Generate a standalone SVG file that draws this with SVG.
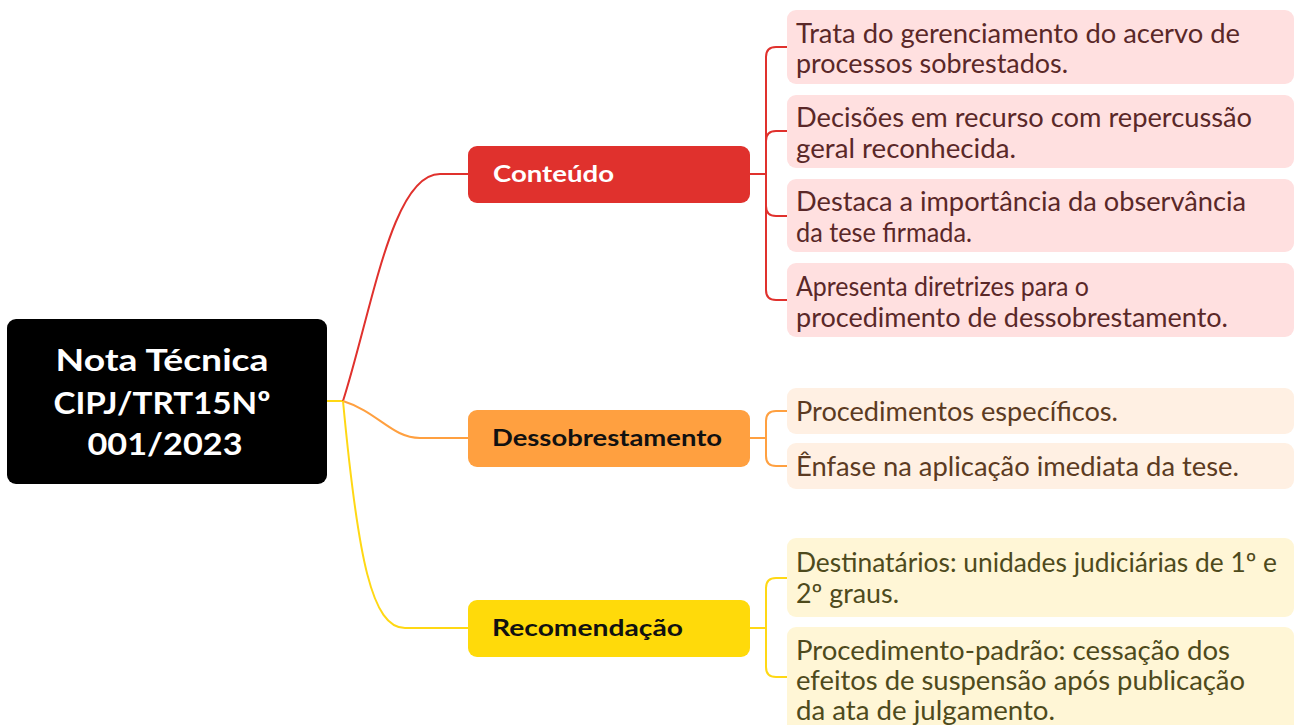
<svg xmlns="http://www.w3.org/2000/svg" width="1296" height="725" viewBox="0 0 1296 725">
<style>
.root{fill:#000}
.rt{font-family:Lato,"Liberation Sans",sans-serif;font-weight:bold;font-size:31px;fill:#fff;text-anchor:middle}
.bt{font-family:Lato,"Liberation Sans",sans-serif;font-weight:bold;font-size:22px}
.ct{font-family:Lato,"Liberation Sans",sans-serif;font-size:26px}
.c{fill:none;stroke-width:2}
.r{stroke:#E0312D}.o{stroke:#FFA040}.y{stroke:#FFD814}
.pk{fill:#FFE0E0}.po{fill:#FFF0E3}.py{fill:#FFF6D6}
.tk{fill:#5A2828}.to{fill:#5C3B22}.ty{fill:#4E4A1C}
</style>
<g id="connectors">
<path class="c y" d="M327 401 H343"/>
<path class="c r" d="M343 401 C372 310 392 174 440 174 H468"/>
<path class="c o" d="M343 401 C378 412 392 438 420 438 H468"/>
<path class="c y" d="M343 401 C358 560 372 628 405 628 H468"/>
<path class="c r" d="M750 174 H766 M788 47 H776 Q766 47 766 57 V290 Q766 300 776 300 H788 M788 131 H776 Q766 131 766 141 M788 216 H776 Q766 216 766 206"/>
<path class="c o" d="M750 438 H766 M788 411 H776 Q766 411 766 421 V456 Q766 466 776 466 H788"/>
<path class="c y" d="M750 628 H766 M788 578 H776 Q766 578 766 588 V667 Q766 677 776 677 H788"/>
</g>
<g id="root">
<rect class="root" x="7" y="319" width="320" height="165" rx="9"/>
<text class="rt" x="162" y="371" textLength="213" lengthAdjust="spacingAndGlyphs">Nota Técnica</text>
<text class="rt" x="162" y="414" textLength="217" lengthAdjust="spacingAndGlyphs">CIPJ/TRT15Nº</text>
<text class="rt" x="165" y="455" textLength="155" lengthAdjust="spacingAndGlyphs">001/2023</text>
</g>
<g id="conteudo">
<rect x="468" y="146" width="282" height="57" rx="9" fill="#E0312D"/>
<text class="bt" x="493" y="182" fill="#fff" textLength="121" lengthAdjust="spacingAndGlyphs">Conteúdo</text>
</g>
<g id="dessobrestamento">
<rect x="468" y="410" width="282" height="57" rx="9" fill="#FFA040"/>
<text class="bt" x="492" y="446" fill="#111" textLength="230" lengthAdjust="spacingAndGlyphs">Dessobrestamento</text>
</g>
<g id="recomendacao">
<rect x="468" y="600" width="282" height="57" rx="9" fill="#FFDA0A"/>
<text class="bt" x="492" y="636" fill="#111" textLength="191" lengthAdjust="spacingAndGlyphs">Recomendação</text>
</g>
<g id="c1">
<rect class="pk" x="787" y="10" width="507" height="74" rx="9"/>
<text class="ct tk" x="796" y="43" textLength="444" lengthAdjust="spacingAndGlyphs">Trata do gerenciamento do acervo de</text>
<text class="ct tk" x="796" y="73" textLength="272" lengthAdjust="spacingAndGlyphs">processos sobrestados.</text>
</g>
<g id="c2">
<rect class="pk" x="787" y="95" width="507" height="73" rx="9"/>
<text class="ct tk" x="796" y="127" textLength="456" lengthAdjust="spacingAndGlyphs">Decisões em recurso com repercussão</text>
<text class="ct tk" x="796" y="158" textLength="220" lengthAdjust="spacingAndGlyphs">geral reconhecida.</text>
</g>
<g id="c3">
<rect class="pk" x="787" y="179" width="507" height="73" rx="9"/>
<text class="ct tk" x="796" y="211" textLength="450" lengthAdjust="spacingAndGlyphs">Destaca a importância da observância</text>
<text class="ct tk" x="796" y="242" textLength="176" lengthAdjust="spacingAndGlyphs">da tese firmada.</text>
</g>
<g id="c4">
<rect class="pk" x="787" y="263" width="507" height="74" rx="9"/>
<text class="ct tk" x="796" y="296" textLength="293" lengthAdjust="spacingAndGlyphs">Apresenta diretrizes para o</text>
<text class="ct tk" x="796" y="327" textLength="432" lengthAdjust="spacingAndGlyphs">procedimento de dessobrestamento.</text>
</g>
<g id="d1">
<rect class="po" x="787" y="388" width="507" height="46" rx="9"/>
<text class="ct to" x="796" y="421" textLength="322" lengthAdjust="spacingAndGlyphs">Procedimentos específicos.</text>
</g>
<g id="d2">
<rect class="po" x="787" y="443" width="507" height="46" rx="9"/>
<text class="ct to" x="796" y="476" textLength="443" lengthAdjust="spacingAndGlyphs">Ênfase na aplicação imediata da tese.</text>
</g>
<g id="r1">
<rect class="py" x="787" y="538" width="507" height="79" rx="9"/>
<text class="ct ty" x="796" y="572" textLength="481" lengthAdjust="spacingAndGlyphs">Destinatários: unidades judiciárias de 1º e</text>
<text class="ct ty" x="796" y="603" textLength="103" lengthAdjust="spacingAndGlyphs">2º graus.</text>
</g>
<g id="r2">
<rect class="py" x="787" y="627" width="507" height="110" rx="9"/>
<text class="ct ty" x="796" y="660" textLength="434" lengthAdjust="spacingAndGlyphs">Procedimento-padrão: cessação dos</text>
<text class="ct ty" x="796" y="690" textLength="449" lengthAdjust="spacingAndGlyphs">efeitos de suspensão após publicação</text>
<text class="ct ty" x="796" y="720" textLength="259" lengthAdjust="spacingAndGlyphs">da ata de julgamento.</text>
</g>
</svg>
